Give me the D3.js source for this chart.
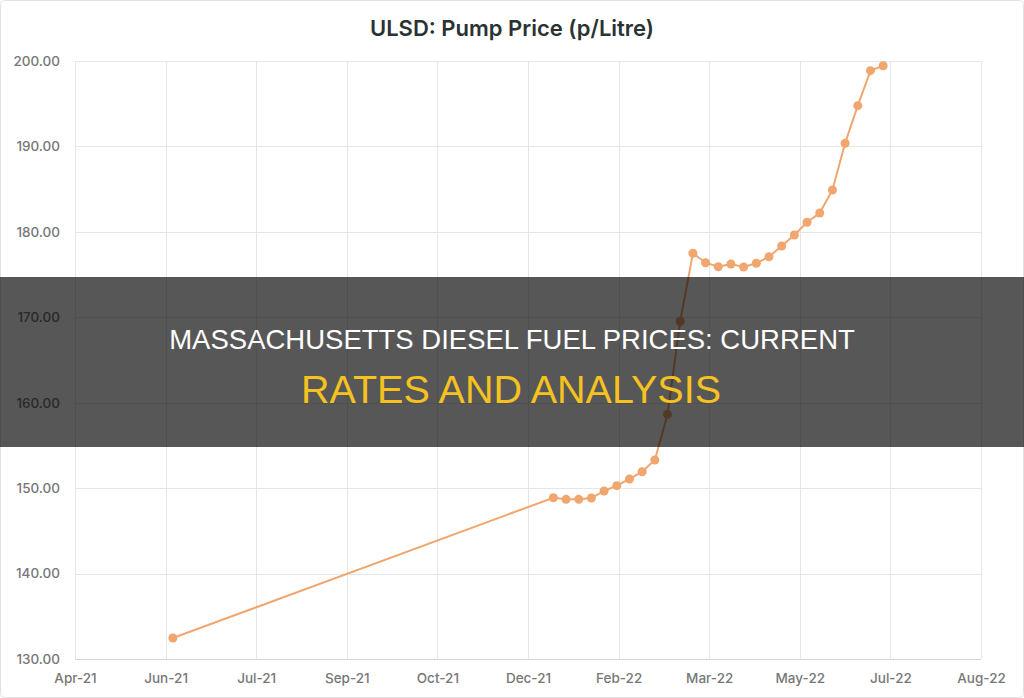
<!DOCTYPE html>
<html>
<head>
<meta charset="utf-8">
<script src="https://cdn.jsdelivr.net/npm/d3@7"></script>
<style>
  html, body { margin: 0; padding: 0; background: #fff; }
  svg { display: block; }
</style>
</head>
<body>
<script>
const width = 1024;
const height = 698;

// weekly ULSD pump price, p/litre
const dates = [
  "2021-06-07",
  "2022-01-03", "2022-01-10", "2022-01-17", "2022-01-24", "2022-01-31",
  "2022-02-07", "2022-02-14", "2022-02-21", "2022-02-28",
  "2022-03-07", "2022-03-14", "2022-03-21", "2022-03-28",
  "2022-04-04", "2022-04-11", "2022-04-18", "2022-04-25",
  "2022-05-02", "2022-05-09", "2022-05-16", "2022-05-23", "2022-05-30",
  "2022-06-06", "2022-06-13", "2022-06-20", "2022-06-27", "2022-07-04"
];
const prices = [
  132.46,
  148.88, 148.69, 148.69, 148.84, 149.67,
  150.29, 151.07, 151.92, 153.29,
  158.64, 169.53, 177.49, 176.39,
  175.92, 176.24, 175.89, 176.32,
  177.09, 178.34, 179.63, 181.12, 182.21,
  184.90, 190.37, 194.77, 198.87, 199.45
];

// x axis ticks (50 day steps)
const tickDates = [
  "2021-04-14", "2021-06-03", "2021-07-23", "2021-09-11", "2021-10-31",
  "2021-12-20", "2022-02-08", "2022-03-30", "2022-05-19", "2022-07-08", "2022-08-27"
];
const yTicks = [130, 140, 150, 160, 170, 180, 190, 200];

const titleText = "ULSD: Pump Price (p/Litre)";
const bannerLine1 = "MASSACHUSETTS DIESEL FUEL PRICES: CURRENT";
const bannerLine2 = "RATES AND ANALYSIS";

const parse = d3.utcParse("%Y-%m-%d");
const data = dates.map((d, i) => ({ date: parse(d), value: prices[i] }));
const ticks = tickDates.map(parse);

const margin = { left: 75, right: 43, top: 61, bottom: 39 };

const svg = d3.select("body")
  .append("svg")
  .attr("width", width)
  .attr("height", height);

// card border
svg.append("rect")
  .attr("x", 0.5).attr("y", 0.5)
  .attr("width", width - 1).attr("height", height - 1)
  .attr("rx", 4)
  .attr("fill", "#fff")
  .attr("stroke", "#e2e2e2");

const x = d3.scaleUtc()
  .domain([ticks[0], ticks[ticks.length - 1]])
  .range([margin.left, width - margin.right]);

const y = d3.scaleLinear()
  .domain([130, 200])
  .range([height - margin.bottom, margin.top]);

// title
svg.append("text")
  .attr("x", 512)
  .attr("y", 36)
  .attr("text-anchor", "middle")
  .attr("font-family", "Inter, 'Open Sans', sans-serif")
  .attr("font-weight", 600)
  .attr("font-size", 22)
  .attr("fill", "#2a3333")
  .text(titleText);

// grid
const grid = svg.append("g");
grid.selectAll("line.v")
  .data(ticks)
  .enter()
  .append("line")
  .attr("x1", d => Math.round(x(d)) + 0.5)
  .attr("x2", d => Math.round(x(d)) + 0.5)
  .attr("y1", y(200))
  .attr("y2", y(130))
  .attr("stroke", "#e6e6e6");
grid.selectAll("line.h")
  .data(yTicks)
  .enter()
  .append("line")
  .attr("x1", x.range()[0])
  .attr("x2", x.range()[1])
  .attr("y1", d => Math.round(y(d)) + 0.5)
  .attr("y2", d => Math.round(y(d)) + 0.5)
  .attr("stroke", d => d === 130 ? "#d6d6d6" : "#e6e6e6");

// axes
const xAxis = d3.axisBottom(x)
  .tickValues(ticks)
  .tickFormat(d3.utcFormat("%b-%y"))
  .tickSize(0)
  .tickPadding(14);
const yAxis = d3.axisLeft(y)
  .tickValues(yTicks)
  .tickFormat(d3.format(".2f"))
  .tickSize(0)
  .tickPadding(15);

const gx = svg.append("g")
  .attr("transform", `translate(0,${y(130)})`)
  .call(xAxis);
const gy = svg.append("g")
  .attr("transform", `translate(${x.range()[0]},0)`)
  .call(yAxis);

[gx, gy].forEach(g => {
  g.select(".domain").remove();
  g.selectAll("text")
    .attr("font-family", "Inter, 'Open Sans', sans-serif")
    .attr("font-weight", 500)
    .attr("font-size", 13.5)
    .attr("fill", "#777");
});

// line + markers
const line = d3.line()
  .x(d => x(d.date))
  .y(d => y(d.value));

svg.append("path")
  .datum(data)
  .attr("d", line)
  .attr("fill", "none")
  .attr("stroke", "#f0a66e")
  .attr("stroke-width", 2);

svg.selectAll("circle")
  .data(data)
  .enter()
  .append("circle")
  .attr("cx", d => x(d.date))
  .attr("cy", d => y(d.value))
  .attr("r", 4.5)
  .attr("fill", "#f0a66e");

// dark banner over the chart
svg.append("rect")
  .attr("x", 0)
  .attr("y", 277)
  .attr("width", width)
  .attr("height", 170)
  .attr("fill", "rgba(0,0,0,0.66)");

svg.append("text")
  .attr("x", 512)
  .attr("y", 349)
  .attr("text-anchor", "middle")
  .attr("font-family", "'Liberation Sans', Arial, sans-serif")
  .attr("font-size", 27.5)
  .attr("fill", "#ffffff")
  .text(bannerLine1);

svg.append("text")
  .attr("x", 511)
  .attr("y", 403)
  .attr("text-anchor", "middle")
  .attr("font-family", "'Liberation Sans', Arial, sans-serif")
  .attr("font-size", 39.5)
  .attr("fill", "#f5c21f")
  .text(bannerLine2);
</script>
</body>
</html>
